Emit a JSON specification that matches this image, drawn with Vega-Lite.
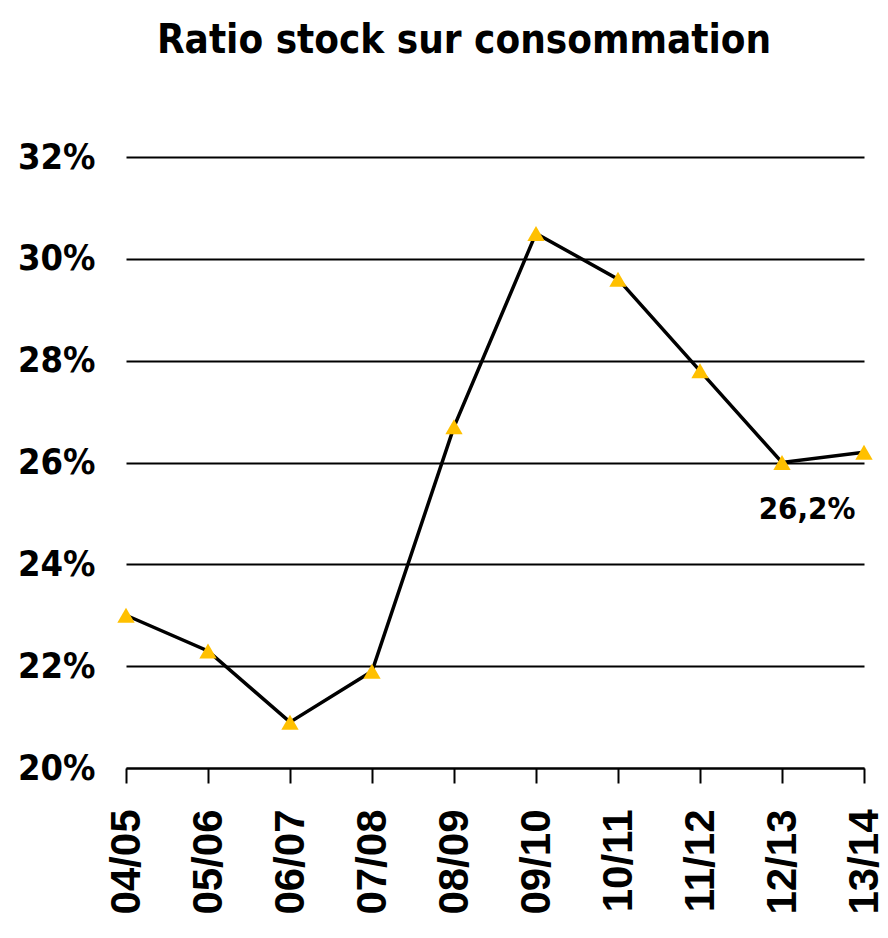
{
  "$schema": "https://vega.github.io/schema/vega-lite/v6.json",
  "width": 738,
  "height": 611,
  "autosize": {"type": "none"},
  "padding": {"left": 126, "top": 157, "right": 24, "bottom": 170},
  "background": "white",
  "title": {
    "text": "Ratio stock sur consommation",
    "font": "DejaVu Sans Condensed, Liberation Sans, sans-serif",
    "fontSize": 40,
    "fontWeight": "bold",
    "color": "black",
    "anchor": "middle",
    "baseline": "alphabetic",
    "offset": 46,
    "dx": -31
  },
  "data": {
    "values": [
      {"campagne": "04/05", "ratio": 23.0, "label": ""},
      {"campagne": "05/06", "ratio": 22.3, "label": ""},
      {"campagne": "06/07", "ratio": 20.9, "label": ""},
      {"campagne": "07/08", "ratio": 21.9, "label": ""},
      {"campagne": "08/09", "ratio": 26.7, "label": ""},
      {"campagne": "09/10", "ratio": 30.5, "label": ""},
      {"campagne": "10/11", "ratio": 29.6, "label": ""},
      {"campagne": "11/12", "ratio": 27.8, "label": ""},
      {"campagne": "12/13", "ratio": 26.0, "label": ""},
      {"campagne": "13/14", "ratio": 26.2, "label": "26,2%"}
    ]
  },
  "encoding": {
    "x": {
      "field": "campagne",
      "type": "ordinal",
      "sort": null,
      "scale": {"type": "point", "padding": 0},
      "axis": {
        "title": null,
        "domainColor": "black",
        "domainWidth": 2,
        "tickColor": "black",
        "tickWidth": 2,
        "tickSize": 15,
        "labelAngle": -90,
        "labelFont": "Liberation Sans",
        "labelFontSize": 42,
        "labelFontWeight": "bold",
        "labelColor": "black",
        "labelPadding": 26,
        "grid": false
      }
    },
    "y": {
      "field": "ratio",
      "type": "quantitative",
      "scale": {"domain": [20, 32], "nice": false, "zero": false},
      "axis": {
        "title": null,
        "values": [20, 22, 24, 26, 28, 30, 32],
        "labelExpr": "datum.value + '%'",
        "domain": false,
        "ticks": false,
        "grid": true,
        "gridColor": "black",
        "gridWidth": 2,
        "gridOpacity": 1,
        "labelFont": "DejaVu Sans Condensed, Liberation Sans, sans-serif",
        "labelFontSize": 36,
        "labelFontWeight": "bold",
        "labelColor": "black",
        "labelPadding": 31
      }
    }
  },
  "layer": [
    {"mark": {"type": "line", "color": "black", "strokeWidth": 3.5}},
    {"mark": {"type": "point", "shape": "triangle-up", "filled": true, "color": "#FFC000", "opacity": 1, "size": 300}},
    {
      "mark": {"type": "text", "font": "DejaVu Sans Condensed, Liberation Sans, sans-serif", "fontSize": 31, "fontWeight": "bold", "color": "black", "dx": -57, "dy": 58},
      "encoding": {"text": {"field": "label"}}
    }
  ],
  "config": {"view": {"stroke": null}}
}
